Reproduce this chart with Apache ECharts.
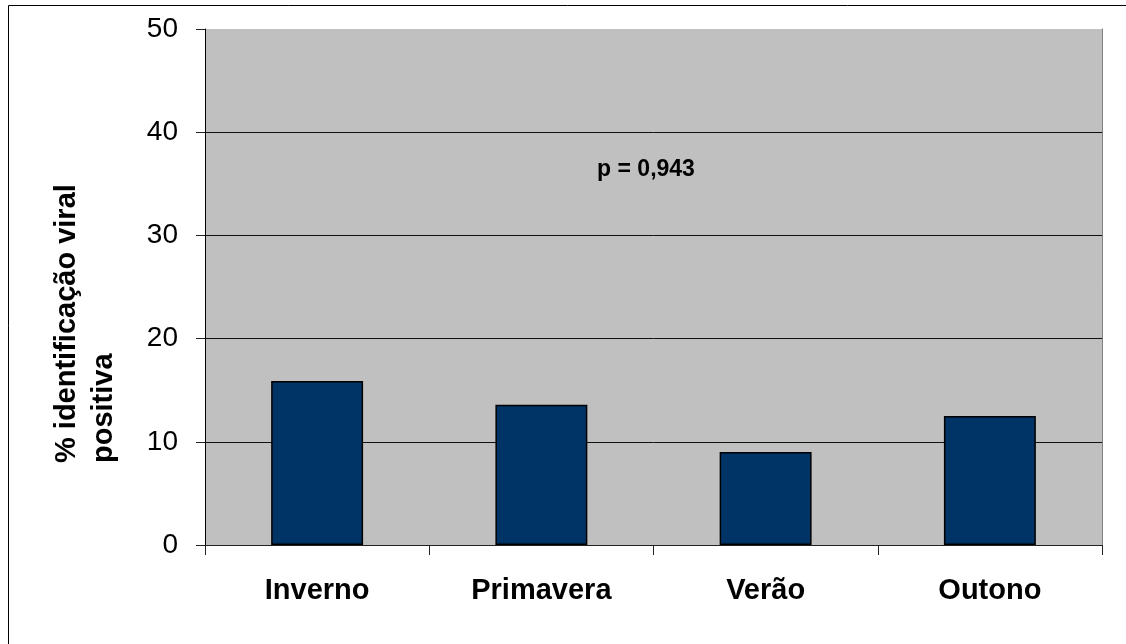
<!DOCTYPE html>
<html>
<head>
<meta charset="utf-8">
<script src="https://cdn.jsdelivr.net/npm/echarts@6/dist/echarts.min.js"></script>
<style>html,body{margin:0;padding:0;background:#fff;}#c{width:1126px;height:644px;}</style>
</head>
<body>
<div id="c"></div>
<script>
const categories = ['Inverno', 'Primavera', 'Verão', 'Outono'];
const values = [15.9, 13.6, 9.0, 12.5];
const yTicks = [0, 10, 20, 30, 40, 50];
const yTitle = '% identificação viral\npositiva';
const annotation = 'p = 0,943';

const FONT = 'Arial, "Liberation Sans", sans-serif';
const chart = echarts.init(document.getElementById('c'), null, {renderer: 'canvas'});
chart.setOption({
  animation: false,
  backgroundColor: '#ffffff',
  grid: {left: 205, right: 24, top: 29, bottom: 99, show: true, backgroundColor: '#C0C0C0', borderWidth: 0},
  xAxis: {
    type: 'category',
    data: categories,
    axisLine: {show: true, lineStyle: {color: '#222', width: 1}},
    axisTick: {show: true, alignWithLabel: false, length: 10, lineStyle: {color: '#222'}},
    axisLabel: {margin: 31, color: '#000', fontFamily: FONT, fontSize: 29, fontWeight: 'bold'},
    splitLine: {show: false}
  },
  yAxis: [{
    type: 'value',
    min: yTicks[0], max: yTicks[yTicks.length - 1], interval: 10,
    axisLine: {show: true, lineStyle: {color: '#000', width: 1}},
    axisTick: {show: true, length: 9, lineStyle: {color: '#222'}},
    axisLabel: {margin: 27, color: '#000', fontFamily: FONT, fontSize: 28},
    splitLine: {show: true, showMinLine: false, showMaxLine: false, lineStyle: {color: '#111', width: 1}}
  }, {
    type: 'value', position: 'right',
    min: yTicks[0], max: yTicks[yTicks.length - 1], interval: 10,
    axisLine: {show: true, lineStyle: {color: '#808080', width: 1}},
    axisTick: {show: false}, axisLabel: {show: false}, splitLine: {show: false}
  }],
  series: [{
    type: 'bar',
    data: values,
    barWidth: '41%',
    itemStyle: {color: '#003366', borderColor: '#000', borderWidth: 1.5}
  }],
  graphic: [
    {type: 'rect', shape: {x: 8.5, y: 5.5, width: 1200, height: 700}, style: {fill: 'none', stroke: '#000', lineWidth: 1}, silent: true, z: -10},
    {type: 'text', x: 48.5, y: 463, rotation: Math.PI / 2,
     style: {text: yTitle, font: 'bold 29px ' + FONT, fill: '#000', textAlign: 'left', textVerticalAlign: 'top', lineHeight: 37}},
    {type: 'text', x: 646, y: 170,
     style: {text: annotation, font: 'bold 23px ' + FONT, fill: '#000', textAlign: 'center', textVerticalAlign: 'middle'}}
  ]
});
</script>
</body>
</html>
